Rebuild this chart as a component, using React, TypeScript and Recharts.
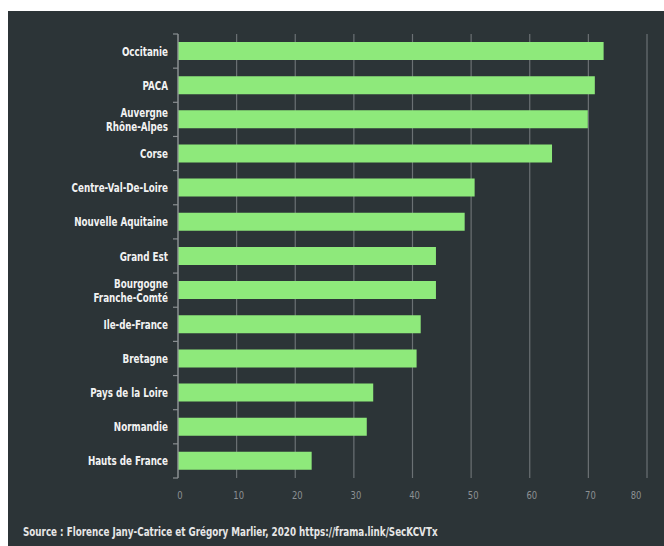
import React from "react";
import { BarChart, Bar, XAxis, YAxis, CartesianGrid } from "recharts";

const regions: string[] = [
  "Occitanie",
  "PACA",
  "Auvergne\nRhône-Alpes",
  "Corse",
  "Centre-Val-De-Loire",
  "Nouvelle Aquitaine",
  "Grand Est",
  "Bourgogne\nFranche-Comté",
  "Ile-de-France",
  "Bretagne",
  "Pays de la Loire",
  "Normandie",
  "Hauts de France",
];
const values: number[] = [72.6, 71.1, 69.9, 63.8, 50.6, 48.9, 44.0, 44.0, 41.4, 40.7, 33.3, 32.2, 22.8];
const xTicks: number[] = [0, 10, 20, 30, 40, 50, 60, 70, 80];
const source = "Source : Florence Jany-Catrice et Grégory Marlier, 2020 https://frama.link/SecKCVTx";

const data = regions.map((r, i) => ({ region: r, value: values[i] }));

const W = 656;
const H = 535;
const M = { top: 23, right: 17, left: 0, bottom: 38 };
const XH = 30;
const band = (H - M.top - M.bottom - XH) / regions.length;
const FONT = "'DejaVu Sans Condensed', 'DejaVu Sans', sans-serif";

// condensed look: squeeze the text horizontally
const SQ = 0.78;

const YTick = (props: any) => {
  const { x, y, payload, index } = props;
  const lines = String(payload.value).split("\n");
  const lh = 14;
  const start = -((lines.length - 1) * lh) / 2;
  const isLast = index === regions.length - 1;
  return (
    <g>
      <line x1={x - 5} x2={x} y1={y - band / 2} y2={y - band / 2} stroke="#8a8f92" strokeWidth={1.2} />
      {isLast && (
        <line x1={x - 5} x2={x} y1={y + band / 2} y2={y + band / 2} stroke="#8a8f92" strokeWidth={1.2} />
      )}
      <text
        transform={`translate(${x - 10},${y + start}) scale(${SQ},1)`}
        x={0}
        y={0}
        textAnchor="end"
        fill="#f2f2f2"
        fontFamily={FONT}
        fontWeight="bold"
        fontSize={12.5}
      >
        {lines.map((l, i) => (
          <tspan key={i} x={0} dy={i === 0 ? 4.5 : lh}>
            {l}
          </tspan>
        ))}
      </text>
    </g>
  );
};

const XTick = (props: any) => {
  const { x, y, payload } = props;
  const last = payload.value === xTicks[xTicks.length - 1];
  const tx = last ? x - 11 : x + 2;
  return (
    <text
      transform={`translate(${tx},${y + 21}) scale(0.85,1)`}
      x={0}
      y={0}
      textAnchor="middle"
      fill="#8c9194"
      fontFamily={FONT}
      fontSize={11}
    >
      {payload.value}
    </text>
  );
};

export default function App() {
  return (
    <div style={{ position: "absolute", left: 0, top: 0, width: 664, height: 546, background: "#ffffff" }}>
      <div style={{ position: "absolute", left: 8, top: 11, width: W, height: H, background: "#2c3437" }}>
        <BarChart width={W} height={H} data={data} layout="vertical" margin={M} barSize={18}>
          <CartesianGrid horizontal={false} vertical={true} stroke="#6b7174" strokeWidth={1.2} />
          <XAxis
            type="number"
            domain={[0, 80]}
            ticks={xTicks}
            axisLine={false}
            tickLine={false}
            tickSize={0}
            tickMargin={0}
            height={XH}
            tick={<XTick />}
          />
          <YAxis
            type="category"
            dataKey="region"
            width={170}
            axisLine={{ stroke: "#8a8f92", strokeWidth: 1.2 }}
            tickLine={false}
            tickSize={0}
            tickMargin={0}
            interval={0}
            tick={<YTick />}
          />
          <Bar dataKey="value" fill="#8ee97b" isAnimationActive={false} />
        </BarChart>
        <div
          style={{
            position: "absolute",
            left: 15,
            top: 513,
            fontFamily: FONT,
            fontWeight: "bold",
            fontSize: 12.5,
            color: "#e6e6e6",
            whiteSpace: "nowrap",
            transform: "scaleX(0.78)",
            transformOrigin: "left center",
          }}
        >
          {source}
        </div>
      </div>
    </div>
  );
}
